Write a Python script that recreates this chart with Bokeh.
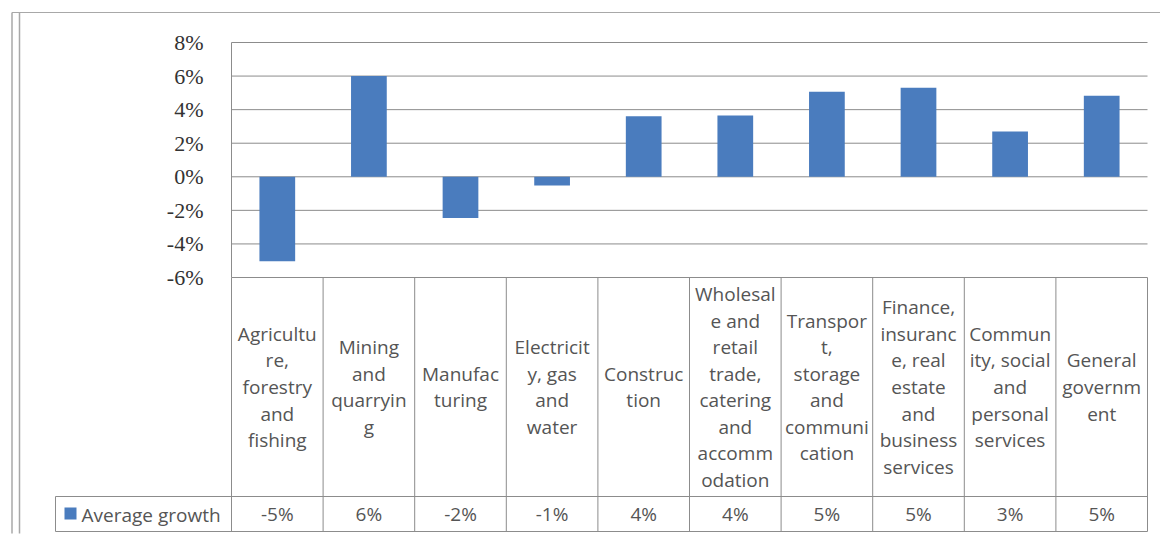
import math
from bokeh.plotting import figure
from bokeh.models import Range1d, FixedTicker, PrintfTickFormatter, ColumnDataSource, LinearAxis
from bokeh.core.properties import value
from bokeh.embed import file_html
from bokeh.resources import INLINE

# ---------------- data ----------------
categories = [
    "Agriculture, forestry and fishing",
    "Mining and quarrying",
    "Manufacturing",
    "Electricity, gas and water",
    "Construction",
    "Wholesale and retail trade, catering and accommodation",
    "Transport, storage and communication",
    "Finance, insurance, real estate and business services",
    "Community, social and personal services",
    "General government",
]
category_labels = [
    "Agricultu\nre,\nforestry\nand\nfishing",
    "Mining\nand\nquarryin\ng",
    "Manufac\nturing",
    "Electricit\ny, gas\nand\nwater",
    "Construc\ntion",
    "Wholesal\ne and\nretail\ntrade,\ncatering\nand\naccomm\nodation",
    "Transpor\nt,\nstorage\nand\ncommuni\ncation",
    "Finance,\ninsuranc\ne, real\nestate\nand\nbusiness\nservices",
    "Commun\nity, social\nand\npersonal\nservices",
    "General\ngovernm\nent",
]
series_name = "Average growth"
average_growth = [-5.03, 6.0, -2.45, -0.52, 3.6, 3.65, 5.06, 5.3, 2.7, 4.83]  # percent
y_ticks = [-6, -4, -2, 0, 2, 4, 6, 8]


def pct_label(v):
    s = 1 if v >= 0 else -1
    return f"{s * int(math.floor(abs(v) + 0.5))}%"


value_labels = [pct_label(v) for v in average_growth]
idx = list(range(len(categories)))
n = len(categories)

# ---------------- styling / layout constants (page pixels) ----------------
BLUE = "#4A7CBE"
GRID = "#8c8c8c"
BORDER = "#a8a8a8"
TEXT = "#555555"
TFONT = value("Open Sans")

ORIGIN = 1                          # page px where the canvas starts
W, H = 1160, 535
FRAME_L, FRAME_T = 8, 9             # page px of frame
FRAME_R, FRAME_B = ORIGIN + W, ORIGIN + H
PLOT_L, PLOT_R = 232, 1148          # category area
TOP, BOTTOM = 43, 278               # y of 8% and -6%
TABLE_L = 56
ROW_LINE = 497
TABLE_BOTTOM = 532
OUTER_L, OUTER_T = 12.5, 13

CAT_W = (PLOT_R - PLOT_L) / n
PX_PER_PCT = (BOTTOM - TOP) / (y_ticks[-1] - y_ticks[0])


def px(page_x):
    return -0.5 + (page_x - PLOT_L) / CAT_W


def py(page_y):
    return y_ticks[0] - (page_y - BOTTOM) / PX_PER_PCT


p = figure(
    width=W, height=H,
    x_range=Range1d(px(FRAME_L), px(FRAME_R)),
    y_range=Range1d(py(FRAME_B), py(FRAME_T)),
    x_axis_location=None, y_axis_location=None,
    toolbar_location=None, output_backend="svg",
    min_border_left=FRAME_L - ORIGIN, min_border_top=FRAME_T - ORIGIN,
    min_border_right=0, min_border_bottom=0,
)
p.outline_line_color = None
p.grid.grid_line_color = None
p.background_fill_color = "white"

# outer chart-area border
p.segment(x0=[px(OUTER_L)], y0=[py(OUTER_T)], x1=[px(FRAME_R)], y1=[py(OUTER_T)],
          line_color=BORDER, line_width=1)
p.segment(x0=[px(OUTER_L), px(20)], y0=[py(OUTER_T), py(OUTER_T)],
          x1=[px(OUTER_L), px(20)], y1=[py(FRAME_B - 2), py(FRAME_B - 2)],
          line_color=BORDER, line_width=1.5)

# horizontal gridlines at the tick values
p.segment(x0=[-0.5] * len(y_ticks), y0=y_ticks, x1=[n - 0.5] * len(y_ticks), y1=y_ticks,
          line_color=GRID, line_width=1)

# y axis fixed at the left edge of the category area
yax = LinearAxis(fixed_location=-0.5, bounds=(y_ticks[0], y_ticks[-1]))
yax.ticker = FixedTicker(ticks=y_ticks)
yax.formatter = PrintfTickFormatter(format="%d%%")
yax.axis_line_color = GRID
yax.major_tick_line_color = None
yax.minor_tick_line_color = None
yax.major_tick_out = 0
yax.major_tick_in = 0
yax.major_label_standoff = 28
yax.major_label_text_font = "Liberation Serif"
yax.major_label_text_font_size = "22px"
yax.major_label_text_color = "#333333"
p.add_layout(yax, "left")

# bars
src = ColumnDataSource(dict(x=idx, top=average_growth, cat=categories))
p.vbar(x="x", top="top", bottom=0, width=0.39, source=src,
       fill_color=BLUE, line_color=None)

# ---------------- data table ----------------
vx = [i - 0.5 for i in range(n + 1)]
p.segment(x0=vx, y0=[py(TABLE_BOTTOM)] * len(vx), x1=vx, y1=[y_ticks[0]] * len(vx),
          line_color=GRID, line_width=1)
p.segment(x0=[px(TABLE_L)] * 2, y0=[py(TABLE_BOTTOM), py(ROW_LINE)],
          x1=[n - 0.5] * 2, y1=[py(TABLE_BOTTOM), py(ROW_LINE)],
          line_color=GRID, line_width=1)
p.segment(x0=[px(TABLE_L)], y0=[py(TABLE_BOTTOM)], x1=[px(TABLE_L)], y1=[py(ROW_LINE)],
          line_color=GRID, line_width=1)

lab_src = ColumnDataSource(dict(x=idx, lab=category_labels, val=value_labels))
p.text(x="x", y=py((BOTTOM + ROW_LINE) / 2), text="lab", source=lab_src,
       text_align="center", text_baseline="middle", text_font=TFONT,
       text_font_size="19px", text_line_height=1.02, text_color=TEXT)
p.text(x="x", y=py((ROW_LINE + TABLE_BOTTOM) / 2), text="val", source=lab_src,
       text_align="center", text_baseline="middle", text_font=TFONT,
       text_font_size="19px", text_color=TEXT)

p.scatter(x=[px(71)], y=[py(514)], marker="square", size=12,
          fill_color=BLUE, line_color=None)
p.text(x=[px(82)], y=[py(515)], text=[series_name], text_align="left",
       text_baseline="middle", text_font=TFONT, text_font_size="19px",
       text_color=TEXT)

open("out.html", "w").write(file_html(p, INLINE))
